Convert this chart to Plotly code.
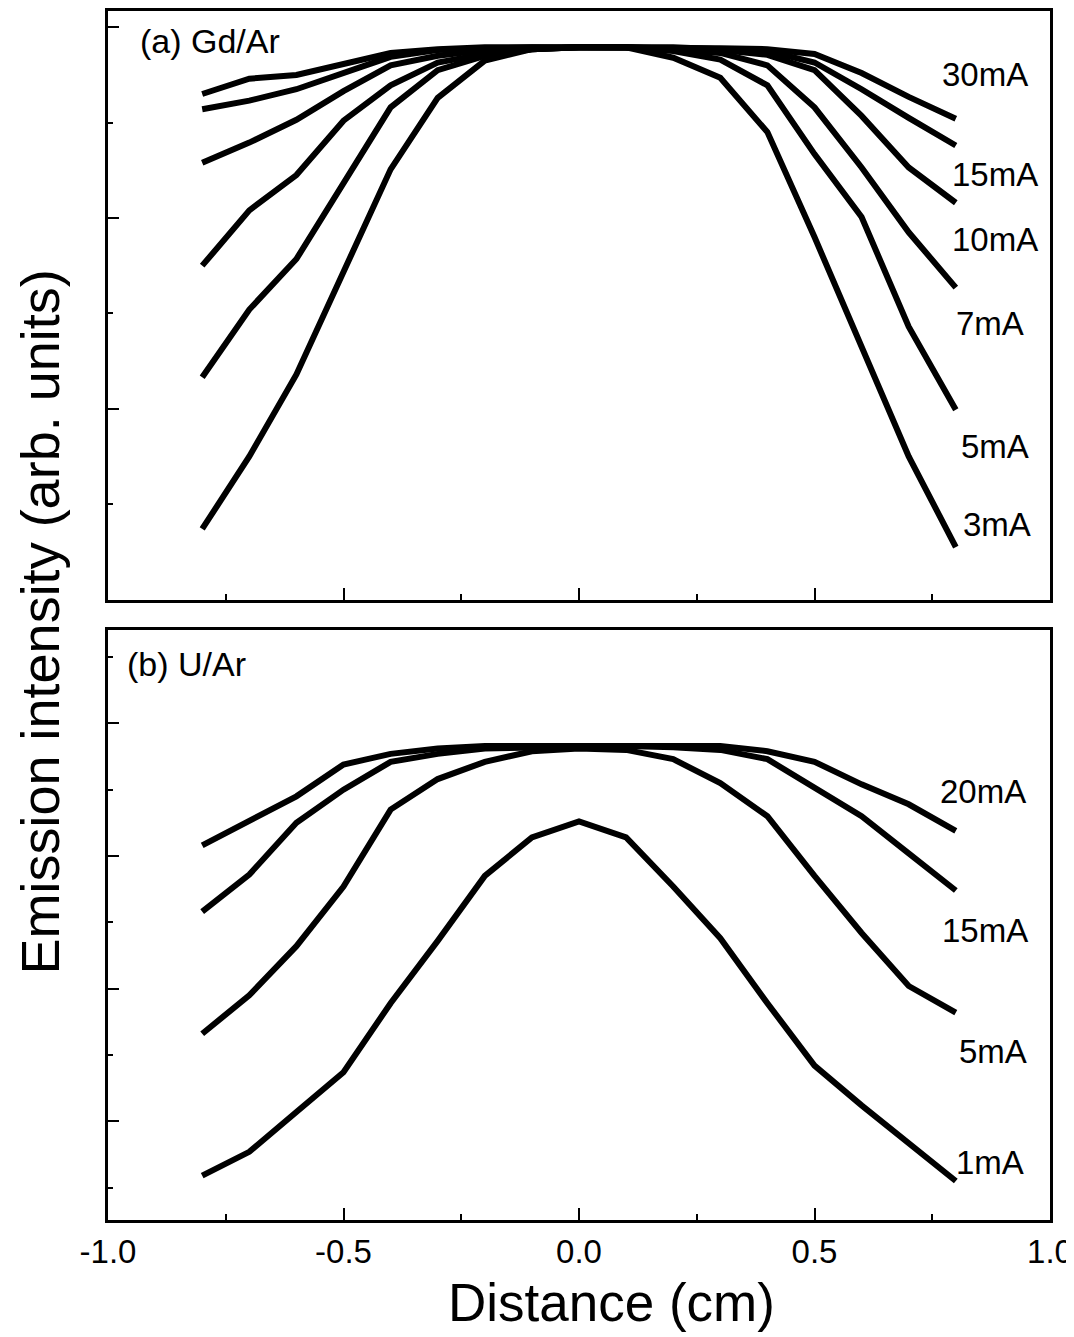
import plotly.graph_objects as go

# ---------------- data ----------------
distance = [-0.8, -0.7, -0.6, -0.5, -0.4, -0.3, -0.2, -0.1, 0.0,
            0.1, 0.2, 0.3, 0.4, 0.5, 0.6, 0.7, 0.8]

# (a) Gd/Ar, emission intensity (arb. units)
gd_labels = ["30mA", "15mA", "10mA", "7mA", "5mA", "3mA"]
gd_30 = [5.30, 5.46, 5.50, 5.62, 5.73, 5.77, 5.79, 5.79, 5.79, 5.79, 5.79, 5.78, 5.77, 5.72, 5.52, 5.27, 5.04]
gd_15 = [5.14, 5.23, 5.35, 5.52, 5.69, 5.76, 5.78, 5.79, 5.79, 5.79, 5.79, 5.77, 5.75, 5.63, 5.35, 5.05, 4.76]
gd_10 = [4.58, 4.79, 5.03, 5.33, 5.60, 5.70, 5.76, 5.78, 5.79, 5.79, 5.78, 5.76, 5.71, 5.55, 5.07, 4.53, 4.16]
gd_7 = [3.50, 4.08, 4.45, 5.02, 5.39, 5.63, 5.72, 5.77, 5.79, 5.79, 5.77, 5.73, 5.60, 5.16, 4.53, 3.85, 3.27]
gd_5 = [2.33, 3.04, 3.57, 4.37, 5.16, 5.55, 5.70, 5.77, 5.79, 5.79, 5.75, 5.66, 5.39, 4.67, 4.01, 2.86, 1.99]
gd_3 = [0.74, 1.50, 2.36, 3.45, 4.51, 5.26, 5.65, 5.77, 5.79, 5.79, 5.68, 5.47, 4.90, 3.80, 2.65, 1.50, 0.55]

# (b) U/Ar
u_labels = ["20mA", "15mA", "5mA", "1mA"]
u_20 = [2.08, 2.26, 2.45, 2.69, 2.77, 2.81, 2.83, 2.83, 2.83, 2.83, 2.83, 2.83, 2.79, 2.71, 2.54, 2.39, 2.19]
u_15 = [1.58, 1.86, 2.25, 2.50, 2.71, 2.77, 2.81, 2.82, 2.83, 2.83, 2.82, 2.80, 2.73, 2.52, 2.30, 2.02, 1.74]
u_5 = [0.66, 0.95, 1.32, 1.77, 2.35, 2.58, 2.71, 2.79, 2.81, 2.80, 2.73, 2.55, 2.30, 1.85, 1.42, 1.02, 0.82]
u_1 = [-0.41, -0.23, 0.07, 0.37, 0.89, 1.36, 1.85, 2.14, 2.26, 2.14, 1.77, 1.38, 0.89, 0.42, 0.12, -0.16, -0.45]

# label anchor positions (data coords)
gd_label_x = [0.862, 0.883, 0.883, 0.873, 0.883, 0.887]
gd_label_y = [5.50, 4.46, 3.77, 2.89, 1.60, 0.79]
u_label_x = [0.858, 0.862, 0.879, 0.873]
u_label_y = [2.49, 1.44, 0.53, -0.31]

x_tickvals = [-1.0, -0.5, 0.0, 0.5, 1.0]
x_ticktext = ["-1.0", "-0.5", "0.0", "0.5", "1.0"]

# ---------------- figure ----------------
FONT = "Liberation Sans, Arial, sans-serif"
LW = 6

fig = go.Figure()
for ys in [gd_30, gd_15, gd_10, gd_7, gd_5, gd_3]:
    fig.add_trace(go.Scatter(x=distance, y=ys, mode="lines",
                             line=dict(color="black", width=LW),
                             xaxis="x", yaxis="y", showlegend=False,
                             hoverinfo="skip"))
for ys in [u_20, u_15, u_5, u_1]:
    fig.add_trace(go.Scatter(x=distance, y=ys, mode="lines",
                             line=dict(color="black", width=LW),
                             xaxis="x2", yaxis="y2", showlegend=False,
                             hoverinfo="skip"))

annotations = []
for t, xx, yy in zip(gd_labels, gd_label_x, gd_label_y):
    annotations.append(dict(text=t, x=xx, y=yy, xref="x", yref="y",
                            showarrow=False, xanchor="center", yanchor="middle",
                            font=dict(family=FONT, size=33, color="black")))
for t, xx, yy in zip(u_labels, u_label_x, u_label_y):
    annotations.append(dict(text=t, x=xx, y=yy, xref="x2", yref="y2",
                            showarrow=False, xanchor="center", yanchor="middle",
                            font=dict(family=FONT, size=33, color="black")))

annotations += [
    dict(text="(a) Gd/Ar", x=0.0318, y=0.9752, xref="paper", yref="paper",
         showarrow=False, xanchor="left", yanchor="middle",
         font=dict(family=FONT, size=34, color="black")),
    dict(text="(b) U/Ar", x=0.018, y=0.4596, xref="paper", yref="paper",
         showarrow=False, xanchor="left", yanchor="middle",
         font=dict(family=FONT, size=34, color="black")),
    dict(text="Emission intensity (arb. units)", x=-0.0722, y=0.4950,
         xref="paper", yref="paper", showarrow=False, textangle=-90,
         xanchor="center", yanchor="middle",
         font=dict(family=FONT, size=54, color="black")),
    dict(text="Distance (cm)", x=0.535, y=-0.0685, xref="paper", yref="paper",
         showarrow=False, xanchor="center", yanchor="middle",
         font=dict(family=FONT, size=53, color="black")),
]

axis_common = dict(showline=True, linecolor="black", linewidth=3, mirror=True,
                   showgrid=False, zeroline=False, ticks="inside",
                   tickcolor="black", tickwidth=2)

fig.update_layout(
    width=1066, height=1329,
    margin=dict(l=100, r=24, t=0, b=117),
    paper_bgcolor="white", plot_bgcolor="white",
    showlegend=False,
    annotations=annotations,
    xaxis=dict(domain=[0, 1], range=[-1.0, 1.0], anchor="y",
               tickvals=x_tickvals, ticklen=12, showticklabels=False,
               minor=dict(tickvals=[-0.75, -0.25, 0.25, 0.75], ticks="inside",
                          ticklen=6, tickwidth=2, tickcolor="black"),
               **axis_common),
    yaxis=dict(domain=[0.5132, 1.0], range=[0, 6.17], anchor="x",
               tick0=0, dtick=2, ticklen=11, showticklabels=False,
               minor=dict(tick0=0, dtick=1, ticks="inside", ticklen=5,
                          tickwidth=2, tickcolor="black"),
               **axis_common),
    xaxis2=dict(domain=[0, 1], range=[-1.0, 1.0], anchor="y2",
                tickvals=x_tickvals, ticktext=x_ticktext, ticklen=12,
                tickfont=dict(family=FONT, size=33, color="black"),
                minor=dict(tickvals=[-0.75, -0.25, 0.25, 0.75], ticks="inside",
                           ticklen=6, tickwidth=2, tickcolor="black"),
                **axis_common),
    yaxis2=dict(domain=[0, 0.4876], range=[-0.744, 3.70], anchor="x2",
                tick0=0, dtick=1, ticklen=11, showticklabels=False,
                minor=dict(tick0=0, dtick=0.5, ticks="inside", ticklen=5,
                           tickwidth=2, tickcolor="black"),
                **axis_common),
)

fig.write_html("out.html")
